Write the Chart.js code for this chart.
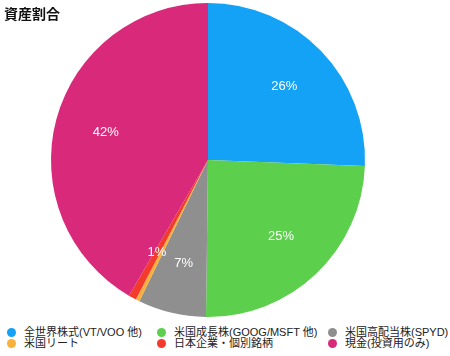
<!DOCTYPE html>
<html>
<head>
<meta charset="utf-8">
<script src="https://cdn.jsdelivr.net/npm/chart.js@4/dist/chart.umd.min.js"></script>
<style>
  html, body { margin: 0; padding: 0; background: #fff; }
  body { width: 450px; height: 356px; position: relative; overflow: hidden;
         font-family: "Liberation Sans", "Noto Sans CJK JP", sans-serif; }
  #title { position: absolute; left: 4px; top: 3px; font-size: 14px; font-weight: bold; color: #111;
           font-family: "Noto Sans CJK JP", sans-serif; z-index: 2; }
  #wrap { position: absolute; left: 0; top: 0; width: 450px; height: 320px; }
  #legend { position: absolute; left: 0; top: 327px; width: 450px; font-size: 11px; color: #222; }
  .item { position: absolute; height: 11px; line-height: 11px; white-space: nowrap; }
  .dot { position: absolute; left: 0; top: 1px; width: 9px; height: 9px; border-radius: 50%; }
  .txt { position: absolute; left: 17px; top: 0; }
</style>
</head>
<body>
<div id="title">資産割合</div>
<div id="wrap"><canvas id="c"></canvas></div>
<div id="legend"></div>
<script>
const categories = ["全世界株式(VT/VOO 他)", "米国成長株(GOOG/MSFT 他)", "米国高配当株(SPYD)", "米国リート", "日本企業・個別銘柄", "現金(投資用のみ)"];
const values = [25.6, 24.6, 7.0, 0.4, 0.8, 41.6];
const colors = ["#13a2f6", "#5ccf4c", "#8f8f8f", "#f9b13a", "#f43a2c", "#d8297b"];
const legendCols = [7, 157, 328];

const labelPlugin = {
  id: 'pctLabels',
  afterDatasetsDraw(chart) {
    const ctx = chart.ctx;
    const meta = chart.getDatasetMeta(0);
    const data = chart.data.datasets[0].data;
    const total = data.reduce((a, b) => a + b, 0);
    ctx.save();
    ctx.fillStyle = '#fff';
    ctx.font = '13px "Liberation Sans", "Noto Sans", sans-serif';
    ctx.textAlign = 'center';
    ctx.textBaseline = 'middle';
    meta.data.forEach((arc, i) => {
      const pct = Math.round(data[i] / total * 100);
      if (pct < 1) return;
      const p = arc.getProps(['startAngle', 'endAngle', 'outerRadius', 'x', 'y'], true);
      const mid = (p.startAngle + p.endAngle) / 2;
      const r = p.outerRadius * 0.675;
      ctx.fillText(pct + '%', p.x + Math.cos(mid) * r, p.y + Math.sin(mid) * r);
    });
    ctx.restore();
  }
};

new Chart(document.getElementById('c'), {
  type: 'pie',
  data: {
    labels: categories,
    datasets: [{ data: values, backgroundColor: colors, borderWidth: 0 }]
  },
  options: {
    responsive: true,
    maintainAspectRatio: false,
    animation: false,
    layout: { padding: { top: 3, bottom: 3, left: 0, right: 34 } },
    plugins: { legend: { display: false }, tooltip: { enabled: false } }
  },
  plugins: [labelPlugin]
});

const leg = document.getElementById('legend');
categories.forEach((name, i) => {
  const it = document.createElement('div');
  it.className = 'item';
  it.style.left = legendCols[i % 3] + 'px';
  it.style.top = (Math.floor(i / 3) * 11) + 'px';
  const d = document.createElement('span');
  d.className = 'dot';
  d.style.background = colors[i];
  const t = document.createElement('span');
  t.className = 'txt';
  t.textContent = name;
  it.appendChild(d); it.appendChild(t);
  leg.appendChild(it);
});
</script>
</body>
</html>
